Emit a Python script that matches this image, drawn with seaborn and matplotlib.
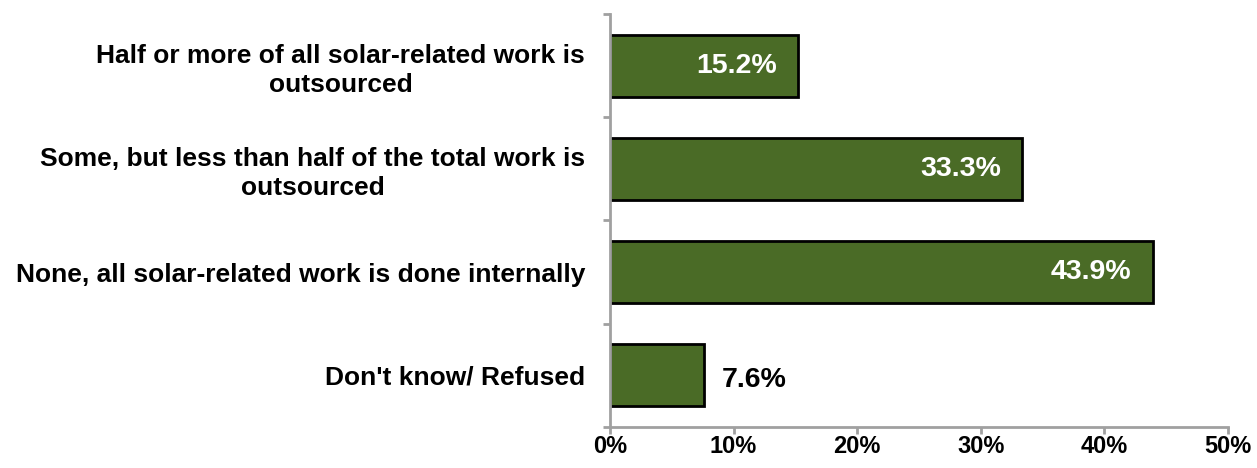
import matplotlib
matplotlib.use("Agg")
import matplotlib.pyplot as plt
import seaborn as sns
import pandas as pd
import numpy as np

# data
categories = ["Half or more of all solar-related work is\noutsourced",
              "Some, but less than half of the total work is\noutsourced",
              "None, all solar-related work is done internally",
              "Don't know/ Refused"]
values = [15.2, 33.3, 43.9, 7.6]
x_ticks = [0, 10, 20, 30, 40, 50]
x_labels = ["0%", "10%", "20%", "30%", "40%", "50%"]

df = pd.DataFrame({"category": categories, "pct": values})

sns.set_style("white")
plt.rcParams['font.family'] = ['Liberation Sans', 'DejaVu Sans']
plt.rcParams['text.color'] = 'black'

fig = plt.figure(figsize=(12.57, 4.68), dpi=100)
ax = fig.add_axes([0.4853, 0.0876, 0.4916, 0.8825])

sns.barplot(data=df, x="pct", y="category", orient="h", color="#4A6B26",
            saturation=1, width=0.6, edgecolor="black", linewidth=2, ax=ax)

ax.set_xlim(0, 50)
ax.set_ylim(3.5, -0.5)
ax.set_xticks(x_ticks)
ax.set_xticklabels(x_labels, fontsize=17, fontweight="bold", color="black")
ax.set_xlabel("")
ax.set_ylabel("")

# category labels, ticks at the category boundaries
ax.set_yticks(range(len(categories)))
ax.set_yticklabels(categories, fontsize=19, fontweight="bold", color="black",
                   multialignment="center", linespacing=1.25)
ax.tick_params(axis="y", which="major", left=False, length=0, pad=18)
ax.set_yticks(np.arange(-0.5, len(categories), 1), minor=True)
ax.tick_params(axis="y", which="minor", left=True, length=5, width=2,
               color="#A0A0A0", direction="out")
ax.tick_params(axis="x", bottom=True, length=5, width=2, color="#A0A0A0",
               direction="out", pad=1)

for s in ["top", "right"]:
    ax.spines[s].set_visible(False)
for s in ["left", "bottom"]:
    ax.spines[s].set_color("#A0A0A0")
    ax.spines[s].set_linewidth(2)

# value labels
for i, v in enumerate(values):
    if v > 10:
        ax.annotate(f"{v:.1f}%", (v, i), xytext=(-15, 0), textcoords="offset points",
                    ha="right", va="center", color="white", fontsize=20.5, fontweight="bold")
    else:
        ax.annotate(f"{v:.1f}%", (v, i), xytext=(13, -3), textcoords="offset points",
                    ha="left", va="center", color="black", fontsize=20.5, fontweight="bold")

fig.savefig("out.png", dpi=100)
